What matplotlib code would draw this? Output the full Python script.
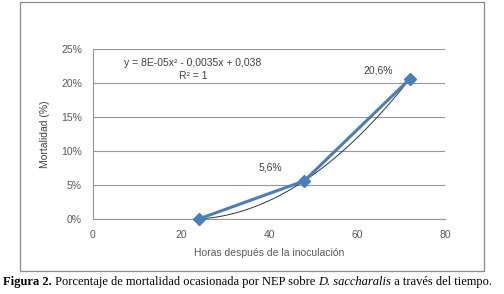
import numpy as np
import matplotlib
matplotlib.use("Agg")
import matplotlib.pyplot as plt
from matplotlib.patches import Rectangle
from matplotlib.ticker import FuncFormatter

hours = [24, 48, 72]
mortality = [0.0, 5.6, 20.6]
point_labels = ["", "5,6%", "20,6%"]
xticks = [0, 20, 40, 60, 80]
yticks = [0, 5, 10, 15, 20, 25]

# label offsets in points (style)
label_offsets = [(0, 0), (-24.5, 10), (-23, 6)]

W, H = 504, 294
fig = plt.figure(figsize=(W/100, H/100), dpi=100)
sans = ["Liberation Sans", "DejaVu Sans"]
serif = ["Liberation Serif", "DejaVu Serif"]
tc = "#595959"

# outer chart box
fig.patches.append(Rectangle((20/W, 1-271/H), 464/W, 269/H, transform=fig.transFigure,
                             fill=False, edgecolor="#8c8c8c", lw=0.9))

ax = fig.add_axes([93/W, 1-219/H, (445-93)/W, (219-49)/H])
ax.set_xlim(0, 80)
ax.set_ylim(0, 25)
ax.set_xticks(xticks)
ax.set_yticks(yticks)
ax.yaxis.set_major_formatter(FuncFormatter(lambda v, p: f"{int(v)}%"))
ax.grid(axis="y", color="#969696", lw=0.8)
ax.set_axisbelow(True)
for s in ["top", "right"]:
    ax.spines[s].set_visible(False)
for s in ["left", "bottom"]:
    ax.spines[s].set_color("#969696")
    ax.spines[s].set_linewidth(0.8)
ax.tick_params(length=0, labelsize=7.5, labelcolor=tc, pad=8)
for lab in ax.get_xticklabels() + ax.get_yticklabels():
    lab.set_family(sans)

# trend line (2nd-order polynomial fit)
coef = np.polyfit(hours, mortality, 2)
xs = np.linspace(min(hours), max(hours), 200)
ax.plot(xs, np.polyval(coef, xs), color="#333333", lw=0.7, zorder=3)

ax.plot(hours, mortality, color="#4a7ebb", lw=2.2, marker="D", markersize=6.5,
        markerfacecolor="#4a7ebb", markeredgecolor="#4a7ebb", zorder=4, clip_on=False)

for x, y, t, off in zip(hours, mortality, point_labels, label_offsets):
    if t:
        ax.annotate(t, (x, y), xytext=off, textcoords="offset points",
                    ha="center", va="center", fontsize=7.5, color="#404040", family=sans)

ax.set_xlabel("Horas después de la inoculación", fontsize=7.5, color=tc, family=sans, labelpad=6)
ax.set_ylabel("Mortalidad (%)", fontsize=7.5, color="#404040", family=sans, labelpad=8)

fig.text(193/W, 1-63/H, "y = 8E-05x² - 0,0035x + 0,038", ha="center", va="center",
         fontsize=7.5, color="#404040", family=sans)
fig.text(193/W, 1-76/H, "R² = 1", ha="center", va="center",
         fontsize=7.5, color="#404040", family=sans)

# caption with mixed styles
parts = [("Figura 2.", "bold", "normal"),
         (" Porcentaje de mortalidad ocasionada por NEP sobre ", "normal", "normal"),
         ("D. saccharalis", "normal", "italic"),
         (" a través del tiempo.", "normal", "normal")]
fig.canvas.draw()
r = fig.canvas.get_renderer()
x = 3
for s, wgt, sty in parts:
    t = fig.text(x/W, 1-282/H, s, ha="left", va="center", fontsize=9,
                 fontweight=wgt, fontstyle=sty, family=serif, color="black")
    bb = t.get_window_extent(renderer=r)
    x += bb.width
fig.savefig("out.png", dpi=100)
